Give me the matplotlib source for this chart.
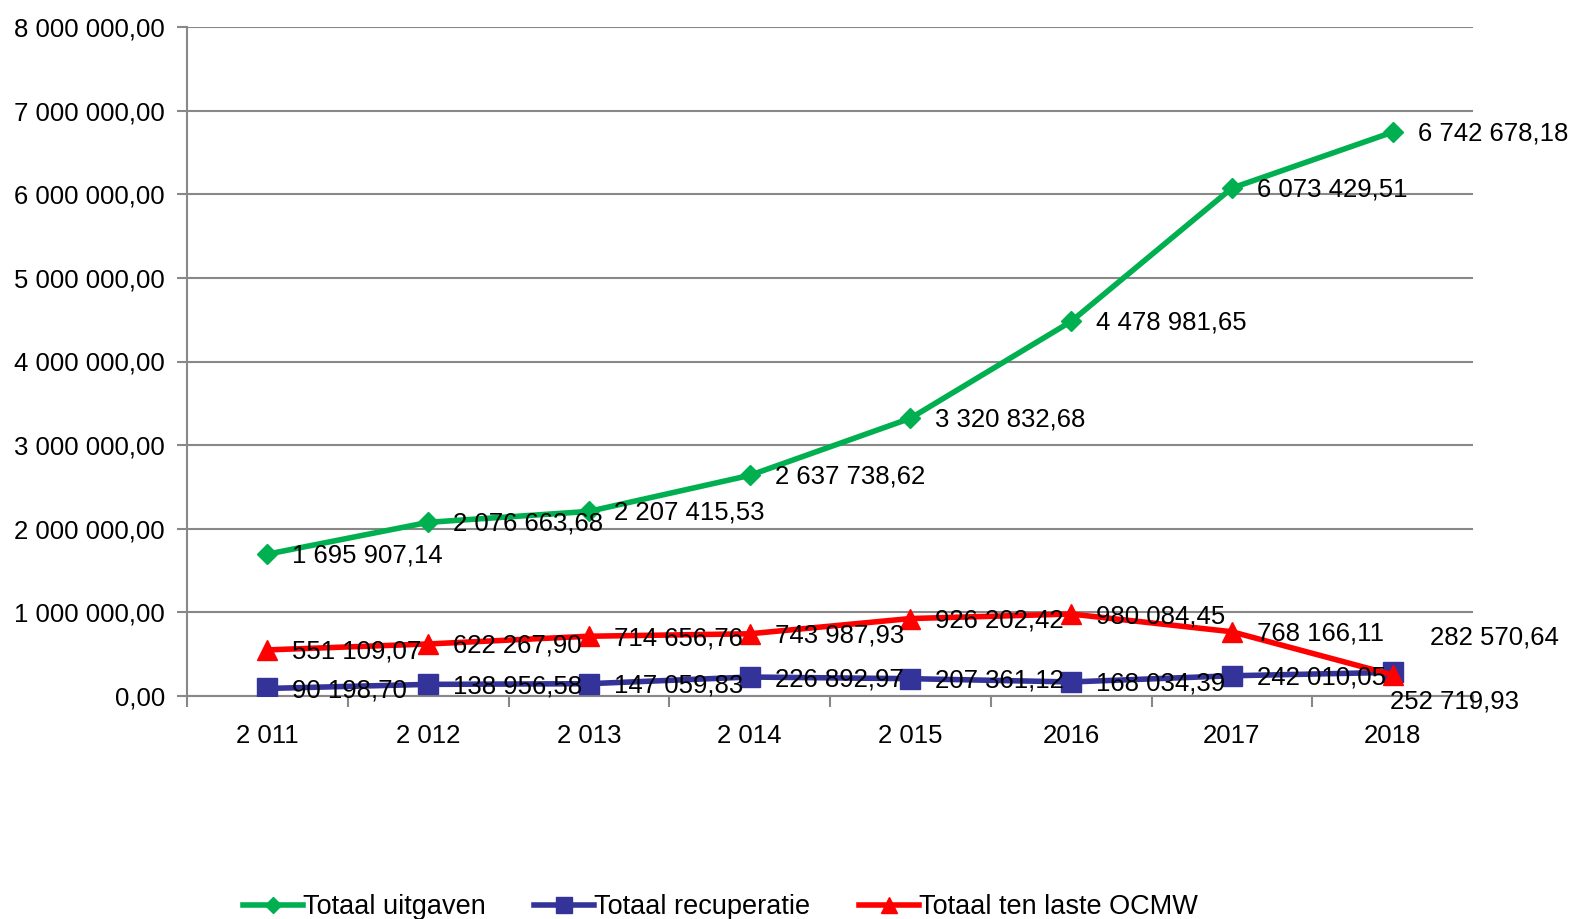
import matplotlib.pyplot as plt
from matplotlib.ticker import FuncFormatter

jaren = ["2 011", "2 012", "2 013", "2 014", "2 015", "2016", "2017", "2018"]
uitgaven = [1695907.14, 2076663.68, 2207415.53, 2637738.62, 3320832.68, 4478981.65, 6073429.51, 6742678.18]
recuperatie = [90198.70, 138956.58, 147059.83, 226892.97, 207361.12, 168034.39, 242010.05, 282570.64]
ten_laste = [551109.07, 622267.90, 714656.76, 743987.93, 926202.42, 980084.45, 768166.11, 252719.93]


def fmt(v):
    s = f"{v:,.2f}"
    return s.replace(",", " ").replace(".", ",")


plt.rcParams['font.family'] = ['Liberation Sans', 'DejaVu Sans']
plt.rcParams['font.size'] = 18.5

fig = plt.figure(figsize=(15.86, 9.19), dpi=100)
ax = fig.add_axes([187/1586, 1-696/919, 1286/1586, 669/919])

x = list(range(len(jaren)))
green = '#00B050'
blue = '#333399'
red = '#FF0000'

ax.plot(x, uitgaven, color=green, lw=4, marker='D', ms=10, label='Totaal uitgaven', zorder=3)
ax.plot(x, recuperatie, color=blue, lw=4, marker='s', ms=14, label='Totaal recuperatie', zorder=3)
ax.plot(x, ten_laste, color=red, lw=4, marker='^', ms=14, label='Totaal ten laste OCMW', zorder=4)

for i in x:
    ax.annotate(fmt(uitgaven[i]), (i, uitgaven[i]), xytext=(25, -1), textcoords='offset pixels',
                va='center', ha='left', zorder=5)
    if i < len(x) - 1:
        ax.annotate(fmt(recuperatie[i]), (i, recuperatie[i]), xytext=(25, -2), textcoords='offset pixels',
                    va='center', ha='left', zorder=5)
        ax.annotate(fmt(ten_laste[i]), (i, ten_laste[i]), xytext=(25, -2), textcoords='offset pixels',
                    va='center', ha='left', zorder=5)
# laatste jaar: labels verschoven zoals in origineel
ax.annotate(fmt(recuperatie[-1]), (x[-1], recuperatie[-1]), xytext=(37, 35), textcoords='offset pixels',
            va='center', ha='left', zorder=5)
ax.annotate(fmt(ten_laste[-1]), (x[-1], ten_laste[-1]), xytext=(-3, -27), textcoords='offset pixels',
            va='center', ha='left', zorder=5)

ax.set_xlim(-0.5, len(x) - 0.5)
ax.set_ylim(0, 8000000)
ax.set_yticks(range(0, 8000001, 1000000))
ax.yaxis.set_major_formatter(FuncFormatter(lambda v, p: fmt(v)))
ax.set_xticks(x)
ax.set_xticklabels(jaren)
ax.set_xticks([i + 0.5 for i in range(-1, len(x))], minor=True)
ax.tick_params(axis='x', which='major', length=0, pad=20)
ax.tick_params(axis='x', which='minor', length=8, color='#888888', width=1.5)
ax.tick_params(axis='y', length=7, color='#888888', width=1.5, pad=9)

ax.grid(axis='y', color='#888888', lw=1.5)
ax.set_axisbelow(True)
for s in ['top', 'right']:
    ax.spines[s].set_visible(False)
ax.spines['left'].set_color('#888888')
ax.spines['left'].set_linewidth(1.5)
ax.spines['bottom'].set_color('#888888')
ax.spines['bottom'].set_linewidth(1.5)

fig.legend(loc='lower left', bbox_to_anchor=(219/1586, -0.028), ncol=3, frameon=False,
           handlelength=2.2, handletextpad=0.0, columnspacing=1.8, fontsize=19.5, markerscale=0.8)

fig.savefig('out.png', dpi=100)
